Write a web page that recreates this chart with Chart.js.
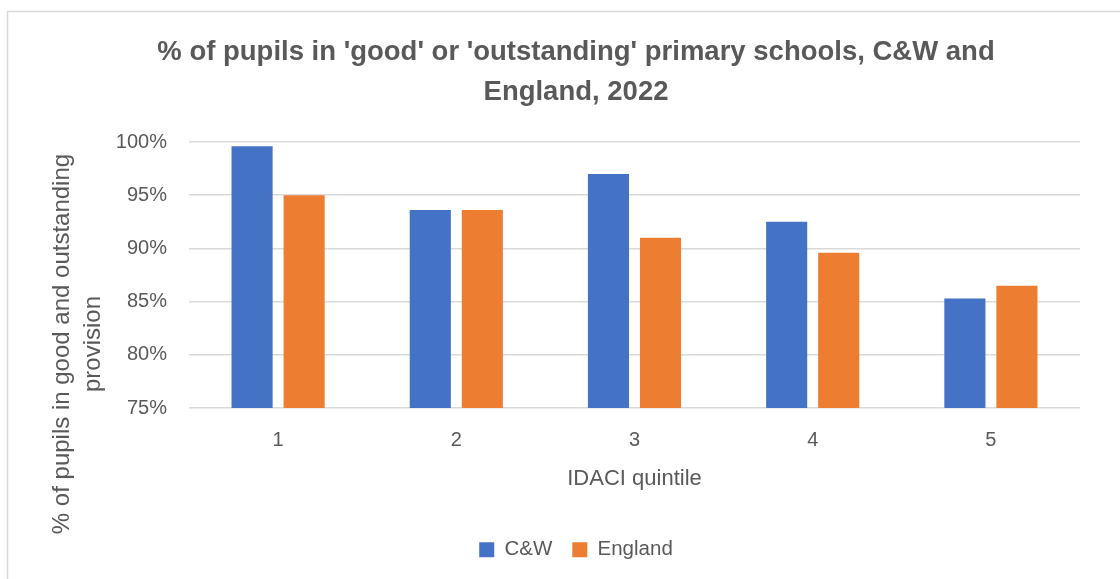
<!DOCTYPE html>
<html>
<head>
<meta charset="utf-8">
<script src="https://cdn.jsdelivr.net/npm/chart.js@4.4.0/dist/chart.umd.min.js"></script>
<style>
  html, body { margin: 0; padding: 0; background: #ffffff; }
  #wrap { width: 1120px; height: 579px; position: relative; }
</style>
</head>
<body>
<div id="wrap"><canvas id="c" width="1120" height="579"></canvas></div>
<script>
const categories = ['1', '2', '3', '4', '5'];
const cwValues = [99.6, 93.6, 97.0, 92.5, 85.3];
const englandValues = [95.0, 93.6, 91.0, 89.6, 86.5];
const seriesNames = ['C&W', 'England'];
const titleLines = ["% of pupils in 'good' or 'outstanding' primary schools, C&W and", 'England, 2022'];
const yTitleLines = ['% of pupils in good and outstanding', 'provision'];
const xTitle = 'IDACI quintile';

const FONT = "'Liberation Sans', Arial, sans-serif";
const TEXT = '#595959';
const GRID = '#d9d9d9';

const frame = {
  id: 'frame',
  beforeDraw(chart) {
    const ctx = chart.ctx;
    ctx.save();
    ctx.strokeStyle = GRID;
    ctx.lineWidth = 1.5;
    ctx.beginPath();
    ctx.moveTo(7.5, 600);
    ctx.lineTo(7.5, 11.5);
    ctx.lineTo(1130, 11.5);
    ctx.stroke();
    ctx.restore();
  },
  afterDraw(chart) {
    const ctx = chart.ctx;
    ctx.save();
    ctx.fillStyle = TEXT;
    ctx.font = '24px ' + FONT;
    ctx.textAlign = 'center';
    ctx.textBaseline = 'middle';
    ctx.translate(62, 344);
    ctx.rotate(-Math.PI / 2);
    ctx.fillText(yTitleLines[0], 0, 0);
    ctx.fillText(yTitleLines[1], 0, 31);
    ctx.restore();
  }
};

new Chart(document.getElementById('c'), {
  type: 'bar',
  data: {
    labels: categories,
    datasets: [
      { label: seriesNames[0], data: cwValues, backgroundColor: '#4472C4' },
      { label: seriesNames[1], data: englandValues, backgroundColor: '#ED7D31' }
    ]
  },
  options: {
    responsive: false,
    animation: false,
    devicePixelRatio: 1,
    categoryPercentage: 0.584,
    barPercentage: 0.79,
    layout: { padding: { left: 72, right: 40, top: 0, bottom: 9 } },
    plugins: {
      title: {
        display: true,
        text: titleLines,
        color: TEXT,
        font: { family: FONT, size: 27.5, weight: 'bold', lineHeight: 1.4545 },
        padding: { top: 32, bottom: 30 }
      },
      legend: {
        position: 'bottom',
        labels: {
          color: TEXT,
          font: { family: FONT, size: 20.5 },
          boxWidth: 15,
          boxHeight: 15,
          padding: 20
        }
      },
      tooltip: { enabled: false }
    },
    scales: {
      x: {
        grid: { display: false, drawTicks: false },
        border: { display: false },
        ticks: { color: TEXT, font: { family: FONT, size: 20 }, padding: 20 },
        title: { display: true, text: xTitle, color: TEXT, font: { family: FONT, size: 22 }, padding: { top: -6, bottom: 27 } }
      },
      y: {
        min: 75,
        max: 100,
        grid: { color: GRID, lineWidth: 1.5, drawTicks: false },
        border: { display: false },
        ticks: {
          stepSize: 5,
          color: TEXT,
          font: { family: FONT, size: 20 },
          padding: 22,
          callback: v => v + '%'
        },
        afterFit(scale) { scale.width = 117; }
      }
    }
  },
  plugins: [frame]
});
</script>
</body>
</html>
